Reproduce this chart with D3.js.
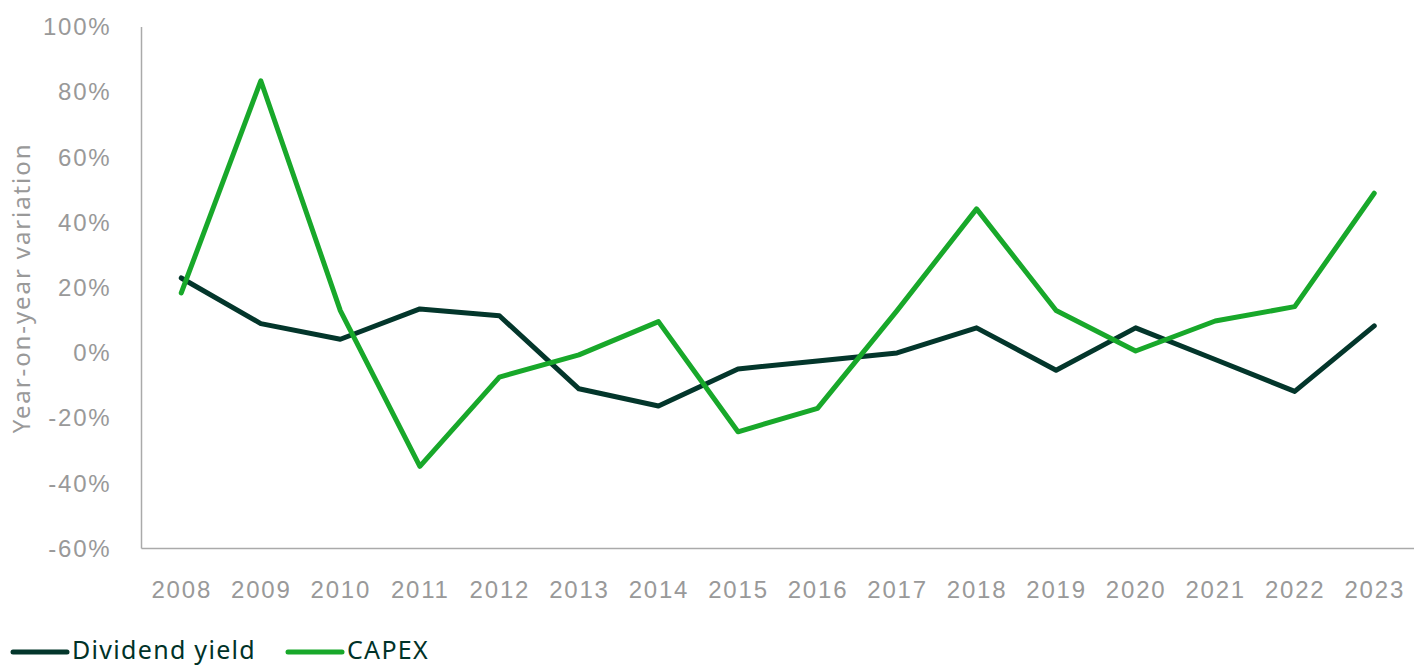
<!DOCTYPE html>
<html lang="en">
<head>
  <meta charset="UTF-8">
  <title>Dividend yield vs CAPEX</title>
  <style type="text/css">
    body{
      margin: 0;
      background: #fff;
      font-family: "Noto Sans", Lato, sans-serif;
    }
    .axis text{
      font-size: 24px;
      letter-spacing: 1.8px;
      fill: #999;
    }
    .axis path,
    .axis line{
      stroke: #aaa;
      stroke-width: 1.5px;
    }
    .label{
      font-size: 24px;
      letter-spacing: 1.9px;
      fill: #999;
    }
    .legend text{
      font-size: 25px;
      letter-spacing: 1.3px;
      fill: #003228;
    }
  </style>
  <script type="text/javascript" src="https://cdnjs.cloudflare.com/ajax/libs/d3/7.8.5/d3.min.js"></script>
</head>
<body>
<script type="text/javascript">
  var years = ['2008','2009','2010','2011','2012','2013','2014','2015','2016','2017','2018','2019','2020','2021','2022','2023'];
  var dividendYield = [23, 9, 4.2, 13.5, 11.4, -11, -16.3, -4.9, -2.5, 0, 7.7, -5.3, 7.7, -2, -11.8, 8.3];
  var capex = [18.4, 83.5, 13, -34.8, -7.4, -0.6, 9.6, -24.2, -17, 13, 44.2, 13, 0.6, 9.8, 14.2, 49];
  var yTicks = [-60, -40, -20, 0, 20, 40, 60, 80, 100];

  var series = [
    {name: 'Dividend yield', values: dividendYield, color: '#03362b'},
    {name: 'CAPEX', values: capex, color: '#18a82a'}
  ];

  var margin = {top: 27, right: 0, bottom: 120, left: 141.5};
  var width = 1414 - margin.left - margin.right;
  var height = 548.5 - margin.top;

  var svg = d3.select('body')
    .append('svg')
    .attr('width', 1414)
    .attr('height', 668)
  .append('g')
    .attr('transform', 'translate(' + margin.left + ',' + margin.top + ')');

  var xScale = d3.scalePoint()
    .domain(years)
    .range([0, width])
    .padding(0.5);

  var yScale = d3.scaleLinear()
    .domain([-60, 100])
    .range([height, 0]);

  svg.append('g')
    .attr('class', 'x axis')
    .attr('transform', 'translate(0,' + height + ')')
    .call(d3.axisBottom(xScale).tickSize(0).tickPadding(32))
    .call(function(g){ g.select('.domain').attr('d', 'M0,0H' + width); });

  svg.append('g')
    .attr('class', 'y axis')
    .call(d3.axisLeft(yScale).tickValues(yTicks).tickSize(0).tickPadding(30)
      .tickFormat(function(d){ return d + '%'; }))
    .call(function(g){ g.select('.domain').attr('d', 'M0,' + height + 'V0'); });

  svg.append('text')
    .attr('class', 'label')
    .attr('transform', 'translate(' + (22 - margin.left) + ',' + (288 - margin.top) + ') rotate(-90)')
    .attr('text-anchor', 'middle')
    .attr('dy', '.35em')
    .text('Year-on-year variation');

  var line = d3.line()
    .x(function(d, i){ return xScale(years[i]); })
    .y(function(d){ return yScale(d); });

  svg.selectAll('.series')
    .data(series)
    .enter().append('path')
    .attr('class', 'series')
    .attr('fill', 'none')
    .attr('stroke', function(d){ return d.color; })
    .attr('stroke-width', 5)
    .attr('stroke-linecap', 'round')
    .attr('stroke-linejoin', 'round')
    .attr('d', function(d){ return line(d.values); });

  var legendX = [13, 288];
  var legend = d3.select('svg').selectAll('.legend')
    .data(series)
    .enter().append('g')
    .attr('class', 'legend')
    .attr('transform', function(d, i){ return 'translate(' + legendX[i] + ',652)'; });

  legend.append('line')
    .attr('x1', 0)
    .attr('x2', 54)
    .attr('stroke', function(d){ return d.color; })
    .attr('stroke-width', 5)
    .attr('stroke-linecap', 'round');

  legend.append('text')
    .attr('x', 59)
    .attr('y', -2)
    .attr('dy', '.35em')
    .text(function(d){ return d.name; });
</script>
</body>
</html>
